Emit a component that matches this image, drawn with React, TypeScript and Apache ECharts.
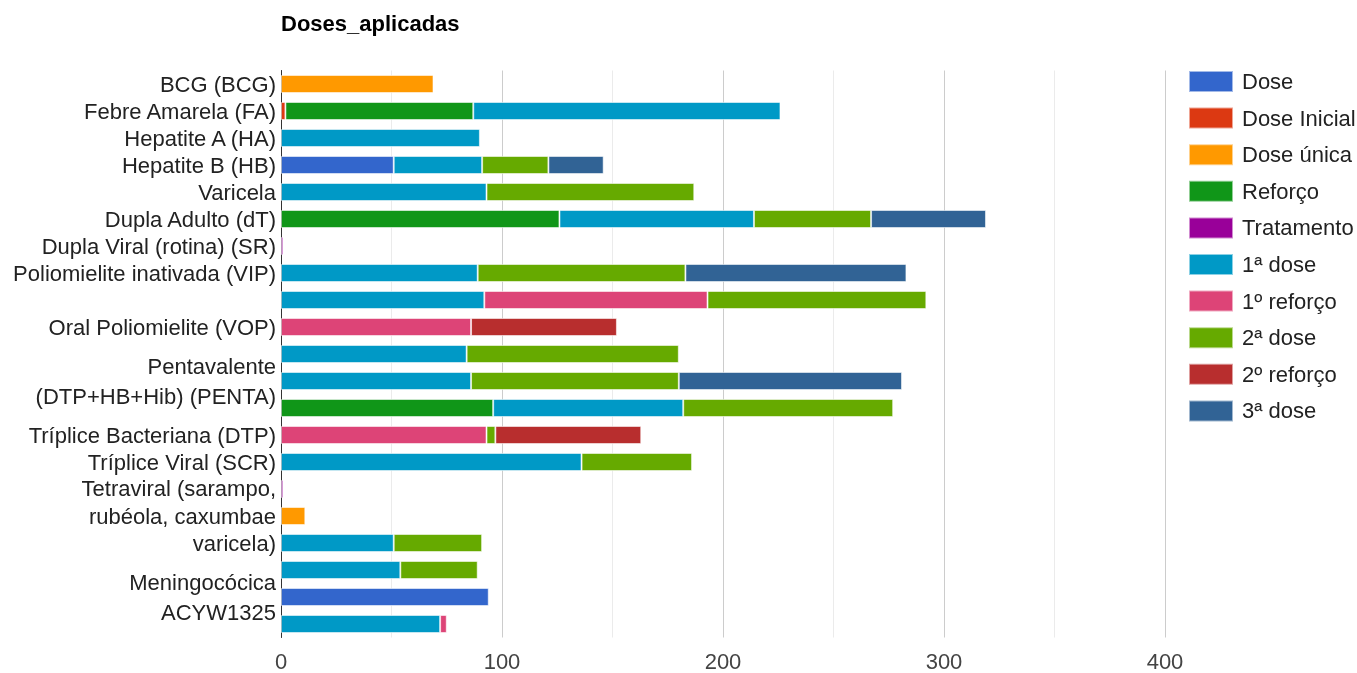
import React, { useEffect, useRef } from "react";
import * as echarts from "echarts";

const categories: string[] = [
  "BCG (BCG)",
  "Febre Amarela (FA)",
  "Hepatite A (HA)",
  "Hepatite B (HB)",
  "Varicela",
  "Dupla Adulto (dT)",
  "Dupla Viral (rotina) (SR)",
  "Poliomielite inativada (VIP)",
  "",
  "Oral Poliomielite (VOP)",
  "",
  "Pentavalente\n(DTP+HB+Hib) (PENTA)",
  "",
  "Tríplice Bacteriana (DTP)",
  "Tríplice Viral (SCR)",
  "",
  "Tetraviral (sarampo,\nrubéola, caxumbae\nvaricela)",
  "",
  "",
  "Meningocócica\nACYW1325",
  "",
];

const seriesNames: string[] = [
  "Dose",
  "Dose Inicial",
  "Dose única",
  "Reforço",
  "Tratamento",
  "1ª dose",
  "1º reforço",
  "2ª dose",
  "2º reforço",
  "3ª dose",
];

const colors: string[] = [
  "#3366cc",
  "#dc3912",
  "#ff9900",
  "#109618",
  "#990099",
  "#0099c6",
  "#dd4477",
  "#66aa00",
  "#b82e2e",
  "#316395",
];

// values per row (21 rows), 0 = no segment
const dose: number[] = [0, 0, 0, 51, 0, 0, 0, 0, 0, 0, 0, 0, 0, 0, 0, 0, 0, 0, 0, 94, 0];
const doseInicial: number[] = [0, 2, 0, 0, 0, 0, 0, 0, 0, 0, 0, 0, 0, 0, 0, 0, 0, 0, 0, 0, 0];
const doseUnica: number[] = [69, 0, 0, 0, 0, 0, 0, 0, 0, 0, 0, 0, 0, 0, 0, 0, 11, 0, 0, 0, 0];
const reforco: number[] = [0, 85, 0, 0, 0, 126, 0, 0, 0, 0, 0, 0, 96, 0, 0, 0, 0, 0, 0, 0, 0];
const tratamento: number[] = [0, 0, 0, 0, 0, 0, 1, 0, 0, 0, 0, 0, 0, 0, 0, 1, 0, 0, 0, 0, 0];
const primeiraDose: number[] = [0, 139, 90, 40, 93, 88, 0, 89, 92, 0, 84, 86, 86, 0, 136, 0, 0, 51, 54, 0, 72];
const primeiroReforco: number[] = [0, 0, 0, 0, 0, 0, 0, 0, 101, 86, 0, 0, 0, 93, 0, 0, 0, 0, 0, 0, 3];
const segundaDose: number[] = [0, 0, 0, 30, 94, 53, 0, 94, 99, 0, 96, 94, 95, 4, 50, 0, 0, 40, 35, 0, 0];
const segundoReforco: number[] = [0, 0, 0, 0, 0, 0, 0, 0, 0, 66, 0, 0, 0, 66, 0, 0, 0, 0, 0, 0, 0];
const terceiraDose: number[] = [0, 0, 0, 25, 0, 52, 0, 100, 0, 0, 0, 101, 0, 0, 0, 0, 0, 0, 0, 0, 0];

const seriesValues: number[][] = [
  dose,
  doseInicial,
  doseUnica,
  reforco,
  tratamento,
  primeiraDose,
  primeiroReforco,
  segundaDose,
  segundoReforco,
  terceiraDose,
];

const xTicks: number[] = [0, 100, 200, 300, 400];

const FONT = "'Liberation Sans', Arial, sans-serif";

export default function App() {
  const ref = useRef<HTMLDivElement>(null);

  useEffect(() => {
    if (!ref.current) return;
    const chart = echarts.init(ref.current, undefined, { renderer: "svg" });

    const series = seriesNames.map((name, i) => ({
      name,
      type: "bar" as const,
      stack: "total",
      barWidth: 18,
      itemStyle: {
        color: colors[i],
        borderColor: "rgba(255,255,255,0.55)",
        borderWidth: 1,
      },
      emphasis: { disabled: true },
      data: seriesValues[i].map((v) => (v === 0 ? null : v)),
    }));

    chart.setOption({
      animation: false,
      textStyle: { fontFamily: FONT },
      title: {
        text: "Doses_aplicadas",
        left: 281,
        top: 12,
        padding: 0,
        textStyle: {
          fontFamily: FONT,
          fontSize: 22,
          fontWeight: "bold",
          color: "#000",
        },
      },
      legend: {
        orient: "vertical",
        left: 1188,
        top: 70,
        padding: 0,
        itemWidth: 44,
        itemHeight: 21,
        itemGap: 13.6,
        icon: "rect",
        data: seriesNames,
        textStyle: {
          fontFamily: FONT,
          fontSize: 22,
          color: "#222",
          padding: [0, 0, 0, 4],
        },
      },
      grid: {
        left: 281,
        right: 192,
        top: 70.5,
        bottom: 35.5,
        containLabel: false,
        outerBoundsMode: "none",
      },
      xAxis: {
        type: "value",
        min: 0,
        max: 400,
        interval: 50,
        axisLine: { show: false },
        axisTick: { show: false },
        axisLabel: {
          margin: 13,
          fontFamily: FONT,
          fontSize: 22,
          color: "#444",
          formatter: (v: number) => (xTicks.includes(v) ? String(v) : ""),
        },
        splitLine: {
          show: true,
          lineStyle: { color: ["#cccccc", "#ebebeb"], width: 1 },
        },
      },
      yAxis: {
        type: "category",
        inverse: true,
        data: categories,
        axisTick: { show: false },
        axisLine: { show: true, lineStyle: { color: "#333", width: 1 } },
        axisLabel: {
          interval: 0,
          margin: 5,
          fontFamily: FONT,
          fontSize: 22,
          color: "#222",
          align: "right",
          formatter: (value: string) => {
            const lines = value.split("\n");
            if (lines.length === 1) return value;
            const key = lines.length === 3 ? "t" : "p";
            return lines.map((l) => `{${key}|${l}}`).join("\n");
          },
          rich: {
            p: {
              fontFamily: FONT,
              fontSize: 22,
              color: "#222",
              lineHeight: 30,
              align: "right",
            },
            t: {
              fontFamily: FONT,
              fontSize: 22,
              color: "#222",
              lineHeight: 27.5,
              align: "right",
            },
          },
        },
      },
      series,
    });

    return () => chart.dispose();
  }, []);

  return (
    <div
      ref={ref}
      style={{ position: "fixed", left: 0, top: 0, width: 1357, height: 673 }}
    />
  );
}
